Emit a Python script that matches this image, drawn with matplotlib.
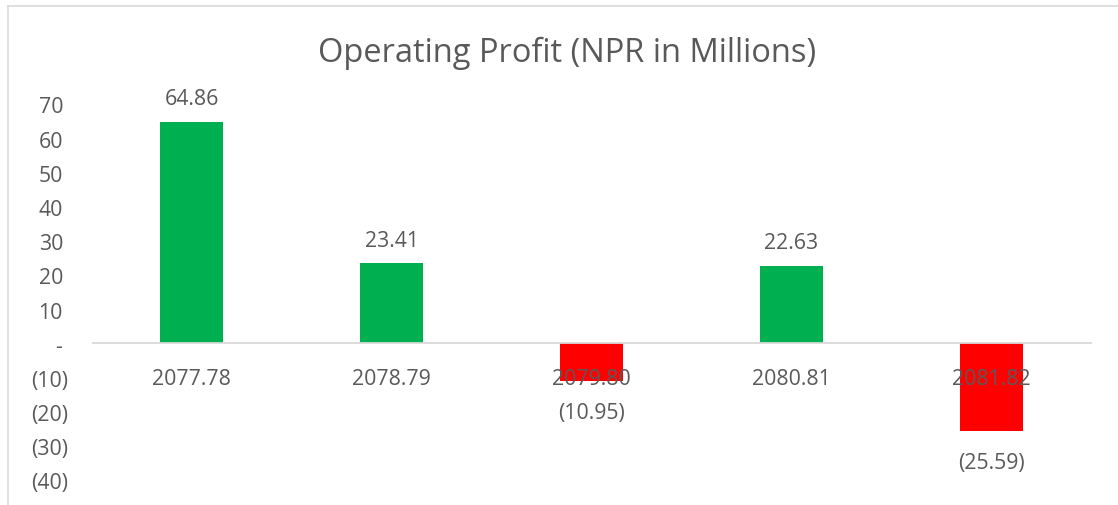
import matplotlib.pyplot as plt
from matplotlib.lines import Line2D
from matplotlib.transforms import blended_transform_factory

# data
years = ["2077.78", "2078.79", "2079.80", "2080.81", "2081.82"]
profit = [64.86, 23.41, -10.95, 22.63, -25.59]
yticks = [70, 60, 50, 40, 30, 20, 10, 0, -10, -20, -30, -40]

GREEN = "#00B050"
RED = "#FF0000"
TXT = "#595959"
FS = 15.3
DY = -3  # nudge text down a touch (va=center includes descent)

plt.rcParams['font.family'] = ['Open Sans', 'DejaVu Sans']


def fmt(v):
    # excel accounting style: dash for zero, brackets for negatives
    if v == 0:
        return "-"
    if v < 0:
        return "({:g})".format(-v) if float(v).is_integer() else "({:.2f})".format(-v)
    return "{:g}".format(v) if float(v).is_integer() else "{:.2f}".format(v)


fig = plt.figure(figsize=(11.18, 5.06), dpi=100)
W, H = 1118, 506
# plot area in pixels: x 91.5..1091.5, y 105..481
ax = fig.add_axes([91.5 / W, 1 - 481 / H, 1000 / W, 376 / H])

x = range(len(years))
colors = [GREEN if v >= 0 else RED for v in profit]
ax.bar(x, profit, width=0.315, color=colors, zorder=2)

ax.set_xlim(-0.5, len(years) - 0.5)
ax.set_ylim(-40, 70)
ax.axhline(0, color="#D9D9D9", lw=1.3, zorder=3)

ax.set_xticks([])
ax.set_yticks([])

# value axis labels, accounting alignment (negatives stick out by the bracket)
tr = blended_transform_factory(fig.transFigure, ax.transData)
for v in yticks:
    xr = 68 if v < 0 else (62 if v == 0 else 63)
    ax.annotate(fmt(v), (xr / W, v), xycoords=tr, xytext=(0, DY),
                textcoords="offset pixels", ha="right", va="center",
                color=TXT, fontsize=FS, annotation_clip=False)

# category labels sit just under the zero line
for i, lab in enumerate(years):
    ax.annotate(lab, (i, 0), xytext=(0, -32 + DY), textcoords="offset pixels",
                ha="center", va="center", color=TXT, fontsize=FS, zorder=5)

for i, v in enumerate(profit):
    off = 26 if v >= 0 else -29
    ax.annotate(fmt(v), (i, v), xytext=(0, off + DY), textcoords="offset pixels",
                ha="center", va="center", color=TXT, fontsize=FS, zorder=5)

for s in ax.spines.values():
    s.set_visible(False)
ax.patch.set_alpha(0)

fig.text(567 / W, 1 - 53 / H, "Operating Profit (NPR in Millions)",
         ha="center", va="center", color=TXT, fontsize=23.5)

# chart border (only top and left visible in the crop)
fig.add_artist(Line2D([8 / W, 1], [1 - 7 / H, 1 - 7 / H], color="#D9D9D9", lw=1.2))
fig.add_artist(Line2D([8 / W, 8 / W], [0, 1 - 7 / H], color="#D9D9D9", lw=1.2))

fig.savefig("out.png", dpi=100)
